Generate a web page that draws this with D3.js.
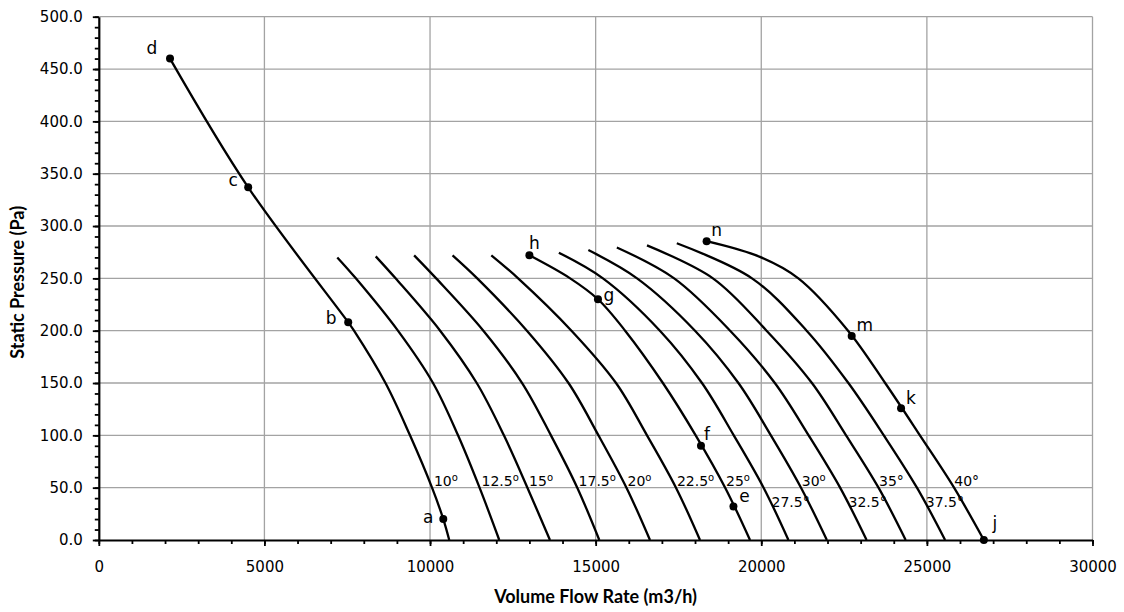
<!DOCTYPE html>
<html>
<head>
<meta charset="utf-8">
<script src="https://cdn.jsdelivr.net/npm/d3@7/dist/d3.min.js"></script>
<style>
  html, body { margin: 0; padding: 0; background: #fff; }
  svg { display: block; }
</style>
</head>
<body>
<svg id="chart" width="1124" height="612"></svg>
<script>
// ---------------- DATA (flow m3/h, static pressure Pa) ----------------
const xTicks = [0, 5000, 10000, 15000, 20000, 25000, 30000];
const yTicks = [0, 50, 100, 150, 200, 250, 300, 350, 400, 450, 500];

const curve10   = [[2150,460],[4510,337],[7530,208],[7705,200],[8655,150],[9395,100],[10060,50],[10400,20],[10580,0]];
const curve12_5 = [[7200,270],[7760,250],[9030,200],[10090,150],[10845,100],[11495,50],[12090,0]];
const curve15   = [[8360,271],[8960,250],[10305,200],[11410,150],[12230,100],[12940,50],[13620,0]];
const curve17_5 = [[9520,272],[10185,250],[11610,200],[12780,150],[13650,100],[14445,50],[15110,0]];
const curve20   = [[10680,272],[11425,250],[12925,200],[14180,150],[15085,100],[15930,50],[16640,0]];
const curve22_5 = [[11850,272],[12660,250],[14270,200],[15615,150],[16550,100],[17425,50],[18150,0]];
const curve25   = [[13000,272],[14230,250],[15070,230],[15890,200],[17030,150],[18020,100],[18910,50],[19660,0]];
const curve27_5 = [[13890,274.5],[15220,250],[16940,200],[18210,150],[19170,100],[20070,50],[20820,0]];
const curve30   = [[14780,277],[16250,250],[18000,200],[19310,150],[20290,100],[21200,50],[21980,0]];
const curve32_5 = [[15640,279.5],[17370,250],[19060,200],[20410,150],[21430,100],[22380,50],[23180,0]];
const curve35   = [[16550,281.5],[18540,250],[20160,200],[21530,150],[22560,100],[23540,50],[24360,0]];
const curve37_5 = [[17450,283.5],[19720,250],[21370,200],[22630,150],[23700,100],[24700,50],[25550,0]];
const curve40   = [[18350,285.5],[19960,270.5],[21120,250],[22620,200],[23740,150],[24790,100],[25820,50],[26720,0]];

const angleNames = ["10","12.5","15","17.5","20","22.5","25","27.5","30","32.5","35","37.5","40"];
const angleMark  = ["o","o","o","o","o","o","o","°","o","°","°","°","°"];

const pointNames     = ["d","c","b","a","h","g","f","e","n","m","k","j"];
const pointFlows     = [2150, 4510, 7530, 10400, 13000, 15070, 18180, 19160, 18350, 22730, 24220, 26720];
const pointPressures = [460, 337, 208, 20, 272, 230, 90, 32, 285.5, 195, 126, 0];

// ---------------- LAYOUT / STYLE ----------------
const curves = [curve10, curve12_5, curve15, curve17_5, curve20, curve22_5, curve25,
                curve27_5, curve30, curve32_5, curve35, curve37_5, curve40];
const lowRow = [false,false,false,false,false,false,false,true,false,true,false,true,false];
const pointLabelOffset = {
  d:[-18,-11], c:[-15,-7], b:[-17,-4], a:[-15,-2], h:[5,-12], g:[11,-4],
  f:[6,-12], e:[11,-11], n:[10,-11], m:[13,-11], k:[10,-10], j:[11,-17]
};

const svg = d3.select("#chart");
const L = 98.8, R = 1092.5, T = 16.7, B = 540;
const x = d3.scaleLinear().domain([0, 30000]).range([L, R]);
const y = d3.scaleLinear().domain([0, 500]).range([B, T]);

const gridColor = "#a3a3a3";
// gridlines
svg.append("g").selectAll("line").data(xTicks.filter(d => d > 0)).join("line")
  .attr("x1", d => x(d)).attr("x2", d => x(d)).attr("y1", y(0)).attr("y2", y(500))
  .attr("stroke", gridColor).attr("stroke-width", 1.3);
svg.append("g").selectAll("line").data(yTicks.filter(d => d > 0)).join("line")
  .attr("x1", x(0)).attr("x2", x(30000)).attr("y1", d => y(d)).attr("y2", d => y(d))
  .attr("stroke", gridColor).attr("stroke-width", 1.3);

// minor ticks
const yMinor = d3.axisLeft(y).tickValues(d3.range(0, 501, 10)).tickSize(4).tickFormat("");
const xMinor = d3.axisBottom(x).tickValues(d3.range(0, 30001, 1000)).tickSize(4).tickFormat("");
svg.append("g").attr("transform", `translate(${L},0)`).call(yMinor)
  .call(g => g.select(".domain").remove())
  .call(g => g.selectAll("line").attr("stroke", "#000").attr("stroke-width", 1.8));
svg.append("g").attr("transform", `translate(0,${B})`).call(xMinor)
  .call(g => g.select(".domain").remove())
  .call(g => g.selectAll("line").attr("stroke", "#000").attr("stroke-width", 1.8));

// major axes
const yAxis = d3.axisLeft(y).tickValues(yTicks).tickSize(6).tickSizeOuter(0).tickPadding(10)
  .tickFormat(d => d.toFixed(1));
const xAxis = d3.axisBottom(x).tickValues(xTicks).tickSize(6).tickSizeOuter(0).tickPadding(15)
  .tickFormat(d => String(d));
svg.append("g").attr("transform", `translate(${L},0)`).call(yAxis)
  .call(g => g.select(".domain").attr("stroke", "#000").attr("stroke-width", 2.2))
  .call(g => g.selectAll("line").attr("stroke", "#000").attr("stroke-width", 1.8))
  .call(g => g.selectAll("text").attr("font-family", "DejaVu Sans").attr("font-size", 15).attr("fill", "#000"));
svg.append("g").attr("transform", `translate(0,${B})`).call(xAxis)
  .call(g => g.select(".domain").attr("stroke", "#000").attr("stroke-width", 2.2))
  .call(g => g.selectAll("line").attr("stroke", "#000").attr("stroke-width", 1.8))
  .call(g => g.selectAll("text").attr("font-family", "DejaVu Sans").attr("font-size", 15).attr("fill", "#000"));

// axis titles
svg.append("text").attr("x", (L + R) / 2).attr("y", 603)
  .attr("text-anchor", "middle").attr("font-family", "Lato").attr("font-weight", "bold")
  .attr("font-size", 18).text("Volume Flow Rate (m3/h)");
svg.append("text").attr("transform", `translate(24,${(T + B) / 2 + 4}) rotate(-90)`)
  .attr("text-anchor", "middle").attr("font-family", "Lato").attr("font-weight", "bold")
  .attr("font-size", 18).text("Static Pressure (Pa)");

// curves
const line = d3.line().x(d => x(d[0])).y(d => y(d[1])).curve(d3.curveCatmullRom.alpha(0.5));
svg.append("g").selectAll("path").data(curves).join("path")
  .attr("d", line).attr("fill", "none").attr("stroke", "#000").attr("stroke-width", 2.3)
  .attr("stroke-linejoin", "round");

// helper: flow of a curve at a given pressure (linear between read points)
function flowAt(c, p) {
  for (let i = 0; i < c.length - 1; i++) {
    const a = c[i], b = c[i + 1];
    if ((a[1] - p) * (b[1] - p) <= 0) {
      const t = (a[1] - p) / (a[1] - b[1]);
      return a[0] + t * (b[0] - a[0]);
    }
  }
  return c[c.length - 1][0];
}

// angle labels
const lg = svg.append("g").attr("font-family", "DejaVu Sans").attr("font-size", 14);
curves.forEach((c, i) => {
  const low = lowRow[i];
  const px = x(flowAt(c, low ? 37 : 57)) + (low ? 1.5 : 5);
  const py = low ? y(31.5) : y(51.5);
  const t = lg.append("text").attr("x", px).attr("y", py).text(angleNames[i]);
  if (angleMark[i] === "o") {
    t.append("tspan").attr("font-size", 10).attr("dy", -5).text("o");
  } else {
    t.append("tspan").text("°");
  }
});

// marker points
svg.append("g").selectAll("circle").data(pointNames).join("circle")
  .attr("cx", (d, i) => x(pointFlows[i])).attr("cy", (d, i) => y(pointPressures[i]))
  .attr("r", 4).attr("fill", "#000");
svg.append("g").selectAll("text").data(pointNames).join("text")
  .attr("x", (d, i) => x(pointFlows[i]) + pointLabelOffset[d][0])
  .attr("y", (d, i) => y(pointPressures[i]) + pointLabelOffset[d][1])
  .attr("text-anchor", "middle").attr("dominant-baseline", "central")
  .attr("font-family", "DejaVu Sans").attr("font-size", 17).text(d => d);
</script>
</body>
</html>
